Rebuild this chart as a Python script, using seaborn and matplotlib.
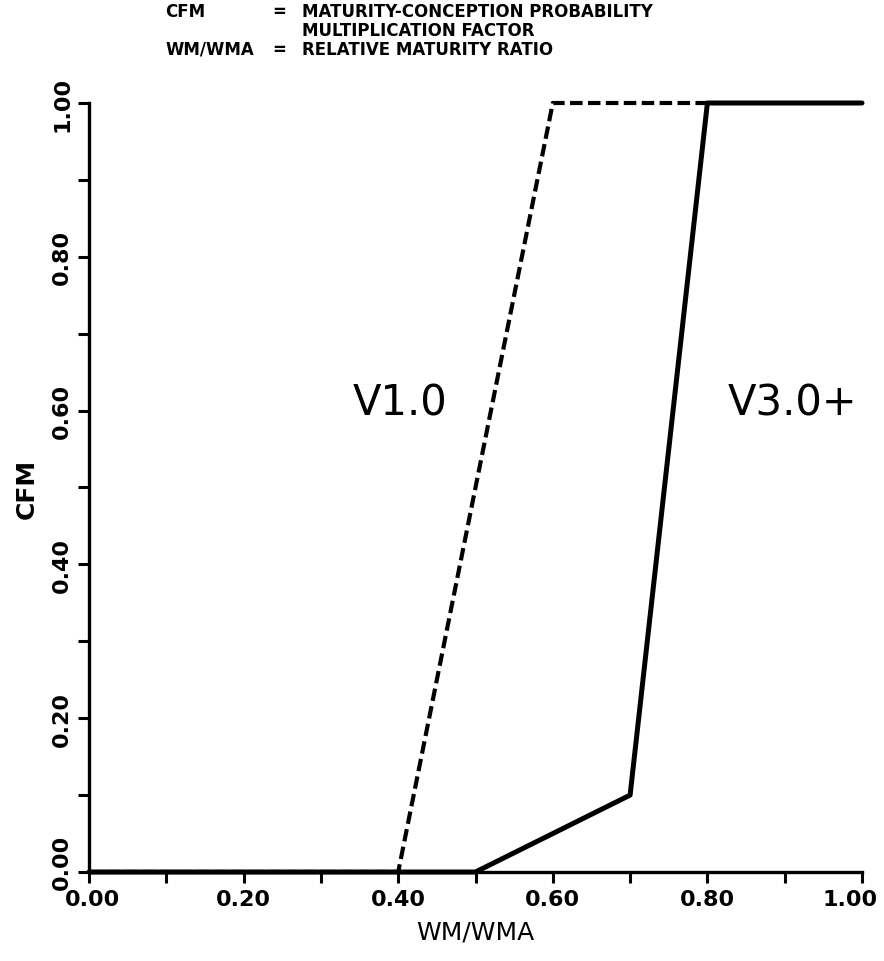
import matplotlib
matplotlib.use("Agg")
import matplotlib.pyplot as plt
import matplotlib.transforms as mtransforms
import seaborn as sns
import pandas as pd
import numpy as np

# data
x_v1 = [0.0, 0.4, 0.6, 0.8]
y_v1 = [0.0, 0.0, 1.0, 1.0]
x_v3 = [0.0, 0.5, 0.7, 0.8, 1.0]
y_v3 = [0.0, 0.0, 0.1, 1.0, 1.0]
tick_vals = [0.0, 0.2, 0.4, 0.6, 0.8, 1.0]
tick_labels = ["0.00", "0.20", "0.40", "0.60", "0.80", "1.00"]
label_v1 = "V1.0"
label_v3 = "V3.0+"

sns.set_theme(style="ticks")
plt.rcParams['font.family'] = ['DejaVu Sans']
plt.rcParams.update({"text.color": "black", "axes.labelcolor": "black",
                     "xtick.color": "black", "ytick.color": "black"})

fig = plt.figure(figsize=(8.84, 9.62), dpi=100)
ax = fig.add_axes([89/884, 1-873/962, 773/884, 769/962])

df1 = pd.DataFrame({"x": x_v1, "y": y_v1})
df3 = pd.DataFrame({"x": x_v3, "y": y_v3})
sns.lineplot(data=df1, x="x", y="y", ax=ax, color="black", lw=3.0,
             sort=False, estimator=None, clip_on=False)
ax.lines[-1].set_dashes([3.0, 1.3])
sns.lineplot(data=df3, x="x", y="y", ax=ax, color="black", lw=3.6,
             sort=False, estimator=None, clip_on=False)

ax.set_xlim(0, 1)
ax.set_ylim(0, 1)
sns.despine(ax=ax)
for s in ["left", "bottom"]:
    ax.spines[s].set_linewidth(2.4)
    ax.spines[s].set_color("black")

ax.set_xticks(tick_vals)
ax.set_xticklabels(tick_labels)
ax.set_yticks(tick_vals)
ax.set_yticklabels(tick_labels, rotation=90, va="center")
ax.set_xticks(np.arange(0.1, 1.0, 0.2), minor=True)
ax.set_yticks(np.arange(0.1, 1.0, 0.2), minor=True)
ax.tick_params(which="both", direction="out", length=8, width=2.2, color="black")
ax.tick_params(axis="both", labelsize=16, pad=4)
for t in ax.get_xticklabels() + ax.get_yticklabels():
    t.set_fontweight("bold")
# nudge labels so they stay inside the figure and clear of each other
lab = ax.get_xticklabels()[-1]
lab.set_transform(lab.get_transform() + mtransforms.ScaledTranslation(-12/100, 0, fig.dpi_scale_trans))
lab = ax.get_xticklabels()[0]
lab.set_transform(lab.get_transform() + mtransforms.ScaledTranslation(4/100, 0, fig.dpi_scale_trans))
lab = ax.get_yticklabels()[0]
lab.set_transform(lab.get_transform() + mtransforms.ScaledTranslation(0, 11/100, fig.dpi_scale_trans))

ax.set_xlabel("WM/WMA", fontsize=18, labelpad=8)
ax.set_ylabel("CFM", fontsize=18, fontweight="bold", labelpad=10)

ax.text(0.402, 0.61, label_v1, fontsize=30, ha="center", va="center")
ax.text(0.91, 0.61, label_v3, fontsize=30, ha="center", va="center")

fs = 12
ys = [12, 31, 50]
fig.text(165/884, 1-ys[0]/962, "CFM", fontsize=fs, fontweight="bold", va="center")
fig.text(279/884, 1-ys[0]/962, "=", fontsize=fs, fontweight="bold", va="center", ha="center")
fig.text(302/884, 1-ys[0]/962, "MATURITY-CONCEPTION PROBABILITY", fontsize=fs, fontweight="bold", va="center")
fig.text(302/884, 1-ys[1]/962, "MULTIPLICATION FACTOR", fontsize=fs, fontweight="bold", va="center")
fig.text(165/884, 1-ys[2]/962, "WM/WMA", fontsize=fs, fontweight="bold", va="center")
fig.text(279/884, 1-ys[2]/962, "=", fontsize=fs, fontweight="bold", va="center", ha="center")
fig.text(302/884, 1-ys[2]/962, "RELATIVE MATURITY RATIO", fontsize=fs, fontweight="bold", va="center")

fig.savefig("out.png", dpi=100, facecolor="white")
